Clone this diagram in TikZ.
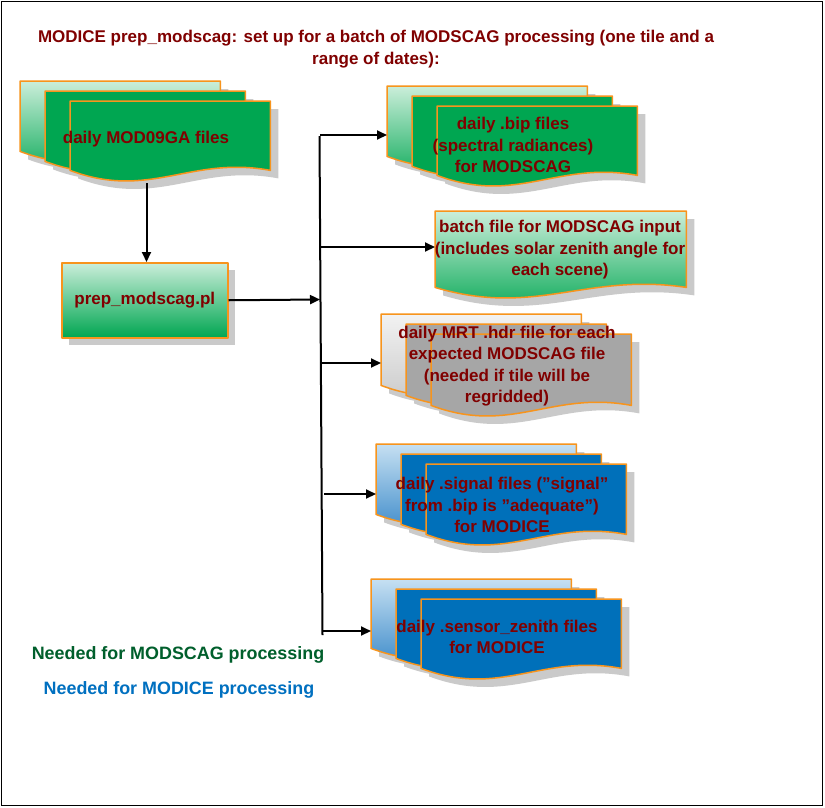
\documentclass[tikz,border=0pt]{standalone}
\usepackage{fontspec}
\setmainfont{Liberation Sans}
\usetikzlibrary{calc,arrows.meta}
\definecolor{maroon}{HTML}{800000}
\definecolor{docorange}{HTML}{F7941D}
\definecolor{dgreen}{HTML}{00A651}
\definecolor{lgreen}{HTML}{CBEEDA}
\definecolor{dblue}{HTML}{0070BA}
\definecolor{lblue}{HTML}{C6E0F2}
\definecolor{mblue}{HTML}{2A7FC4}
\definecolor{dgrey}{HTML}{A6A6A6}
\definecolor{lgrey}{HTML}{F2F2F2}
\definecolor{mgrey}{HTML}{C4C4C4}
\definecolor{shadowgrey}{HTML}{CACACA}
\definecolor{leggreen}{HTML}{005F2C}
\definecolor{legblue}{HTML}{0070C0}
\newcommand{\sq}{\symbol{34}}
\tikzset{
  sheetbox/.style={draw=none, inner sep=0pt, anchor=north west, minimum width=200pt, minimum height=70pt},
  sheetline/.style={draw=docorange, line width=1.5pt, line join=round},
  greengrad/.style={top color=lgreen, bottom color=dgreen},
  greensolid/.style={fill=dgreen},
  greygrad/.style={top color=lgrey, bottom color=mgrey},
  greysolid/.style={fill=dgrey},
  bluegrad/.style={top color=lblue, bottom color=mblue},
  bluesolid/.style={fill=dblue},
  lbl/.style={text=maroon, font=\bfseries\fontsize{17}{21.5}\selectfont, align=center, inner sep=0pt},
  leg/.style={font=\bfseries\fontsize{17.9}{21}\selectfont, inner sep=0pt},
  arr/.style={line width=2pt, -{Triangle[length=10pt,width=9pt]}},
  bus/.style={line width=2pt}
}
\newcommand{\docsheet}[4]{%
  \node[sheetbox,#3] (#1) at #2 {};
  \fill[shadowgrey, transform canvas={shift={(8pt,-8pt)}}]
    (#1.north west) -- (#1.north east) -- (#1.south east)
    .. controls ($(#1.south west)!0.6!(#1.south east)+(0,15pt)$) and ($(#1.south west)!0.4!(#1.south east)+(0,-30pt)$) .. (#1.south west) -- cycle;
  \path[#4, sheetline]
    (#1.north west) -- (#1.north east) -- (#1.south east)
    .. controls ($(#1.south west)!0.6!(#1.south east)+(0,15pt)$) and ($(#1.south west)!0.4!(#1.south east)+(0,-30pt)$) .. (#1.south west) -- cycle;
}
\begin{document}
\begin{tikzpicture}[x=1pt, y=-1pt]
\useasboundingbox (0,0) rectangle (825,807);
\fill[white] (0,0) rectangle (825,807);
\draw[line width=1pt] (1,1) rectangle (822,805);

% title
\node[lbl] (title) at (376,49) {MODICE prep\_modscag: set up for a batch of MODSCAG processing (one tile and a\\range of dates):};

% MOD09GA stack
\docsheet{modA}{(20,81)}{minimum height=70pt}{greengrad}
\docsheet{modB}{(45,91)}{minimum height=70pt}{greensolid}
\docsheet{modC}{(70,101)}{minimum height=69pt}{greensolid}
\node[lbl] (modtxt) at (146,139.5) {daily MOD09GA files};

% prep box
\fill[shadowgrey] (69,270) rectangle (235,345);
\node[sheetline, greengrad, inner sep=0pt, anchor=north west, minimum width=166pt, minimum height=75pt, lbl] (prep) at (61,262) {prep\_modscag.pl};

% bip stack
\docsheet{bipA}{(387,86)}{minimum height=70pt}{greengrad}
\docsheet{bipB}{(412,96)}{minimum height=70pt}{greensolid}
\docsheet{bipC}{(437,106)}{minimum height=69pt}{greensolid}
\node[lbl] (biptxt) at (513,145) {daily .bip files\\(spectral radiances)\\for MODSCAG};

% batch file
\docsheet{batch}{(435,211)}{minimum width=251pt, minimum height=76pt}{greengrad}
\node[lbl] (batchtxt) at (560,250) {batch file for MODSCAG input\\(includes solar zenith angle for\\each scene)};

% hdr stack
\docsheet{hdrA}{(381,314)}{minimum height=71pt}{greygrad}
\docsheet{hdrB}{(406,324)}{minimum height=71pt}{greysolid}
\docsheet{hdrC}{(431,334)}{minimum height=71pt}{greysolid}
\node[lbl] (hdrtxt) at (507,366) {daily MRT .hdr file for each\\expected MODSCAG file\\(needed if tile will be\\regridded)};

% signal stack
\docsheet{sigA}{(376,444)}{minimum height=70pt}{bluegrad}
\docsheet{sigB}{(401,454)}{minimum height=70pt}{bluesolid}
\docsheet{sigC}{(426,464)}{minimum height=70pt}{bluesolid}
\node[lbl] (sigtxt) at (502,505) {daily .signal files (\sq signal\sq\\from .bip is \sq adequate\sq)\\for MODICE};

% sensor stack
\docsheet{senA}{(371,579)}{minimum height=69pt}{bluegrad}
\docsheet{senB}{(396,589)}{minimum height=69pt}{bluesolid}
\docsheet{senC}{(421,599)}{minimum height=69pt}{bluesolid}
\node[lbl] (sentxt) at (497,637) {daily .sensor\_zenith files\\for MODICE};

% legend
\node[leg, text=leggreen] (leg1) at (178,655) {Needed for MODSCAG processing};
\node[leg, text=legblue] (leg2) at (179,690) {Needed for MODICE processing};

% connectors
\coordinate (modout) at (146.5,183);
\draw[arr] (modout) -- (modout |- prep.north);
\coordinate (bustop) at (319.5,136);
\coordinate (busbot) at (322.5,635);
\draw[bus] (bustop) -- (busbot);
\coordinate (busin) at (320,299.5);
\draw[arr] (prep.east) -- (busin);
\coordinate (b1s) at (320,135);   \coordinate (b1e) at (387,135);
\coordinate (b2s) at (320,247);   \coordinate (b2e) at (435,247);
\coordinate (b3s) at (321,363);   \coordinate (b3e) at (381,363);
\coordinate (b4s) at (324,494);   \coordinate (b4e) at (376,494);
\coordinate (b5s) at (322,631);   \coordinate (b5e) at (371,631);
\draw[arr] (b1s) -- (b1e);
\draw[arr] (b2s) -- (b2e);
\draw[arr] (b3s) -- (b3e);
\draw[arr] (b4s) -- (b4e);
\draw[arr] (b5s) -- (b5e);
\end{tikzpicture}
\end{document}
